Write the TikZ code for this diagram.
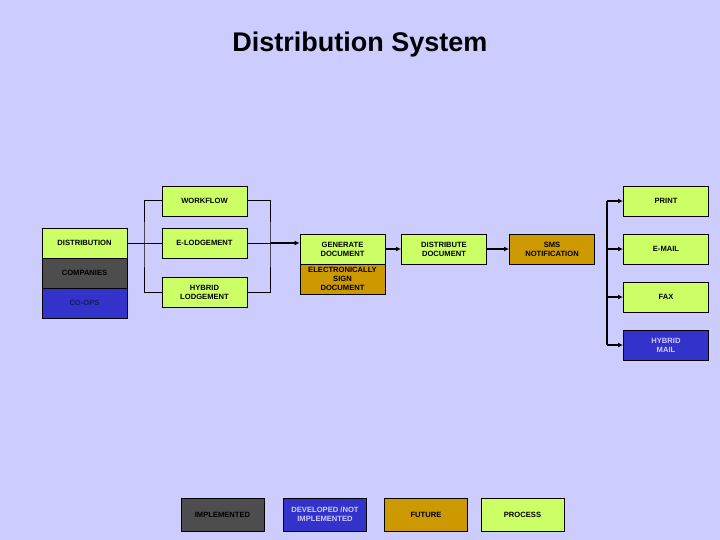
\documentclass[tikz,border=0pt]{standalone}
\usepackage{fontspec}
\setmainfont{Liberation Sans}
\usepackage{xcolor}
\definecolor{colBack}{HTML}{CCCCFF}
\definecolor{colProc}{HTML}{CCFF66}
\definecolor{colImpl}{HTML}{4D4D4D}
\definecolor{colDev}{HTML}{3333CC}
\definecolor{colFut}{HTML}{CC9900}
\definecolor{colNavy}{HTML}{1A1A66}
\usepackage{tikz}
\usetikzlibrary{arrows.meta, positioning, calc}
\tikzset{
	flowbox/.style={draw, line width=0.9pt, minimum width=85pt, minimum height=30pt, inner sep=1pt, align=center, font=\fontsize{7.6}{9}\selectfont\bfseries, fill=#1},
	legbox/.style={flowbox=#1, minimum width=83pt, minimum height=33pt},
	link/.style={line width=1pt},
	flowarr/.style={-{Latex[length=5pt, width=5pt]}, line width=2pt},
}

\begin{document}
\begin{tikzpicture}[x=1pt, y=-1pt]
	\fill[colBack] (0,0) rectangle (720,540);
	\node[font=\fontsize{27}{30}\selectfont\bfseries] (title) at (360,45) {Distribution System};

	% input side
	\node[flowbox=colProc] (distrib) at (84.5,243) {DISTRIBUTION};
	\node[flowbox=colImpl] (companies) at (84.5,273) {COMPANIES};
	\node[flowbox=colDev, text=colNavy] (coops) at (84.5,303) {CO-OPS};
	\node[flowbox=colProc] (workflow) at (204.5,201) {WORKFLOW};
	\node[flowbox=colProc] (elodge) at (204.5,243) {E-LODGEMENT};
	\node[flowbox=colProc] (hyblodge) at (204.5,292) {HYBRID\\LODGEMENT};
	\coordinate (ljoin) at (144,243);
	\coordinate (rjoin) at (270,243);

	% processing
	\node[flowbox=colProc] (generate) at (342.5,249) {GENERATE\\DOCUMENT};
	\node[flowbox=colFut] (esign) at (342.5,279) {ELECTRONICALLY\\SIGN\\DOCUMENT};
	\node[flowbox=colProc] (distdoc) at (444,249) {DISTRIBUTE\\DOCUMENT};
	\node[flowbox=colFut] (sms) at (552,249) {SMS\\NOTIFICATION};

	% outputs
	\node[flowbox=colProc] (print) at (666,201) {PRINT};
	\node[flowbox=colProc] (email) at (666,249) {E-MAIL};
	\node[flowbox=colProc] (fax) at (666,297) {FAX};
	\node[flowbox=colDev, text=colBack] (hybmail) at (666,345) {HYBRID\\MAIL};
	\coordinate (trunk) at (607,201);

	% legend
	\node[legbox=colImpl] (legimpl) at (222.5,514.5) {IMPLEMENTED};
	\node[legbox=colDev, text=colBack] (legdev) at (325,514.5) {DEVELOPED /NOT\\IMPLEMENTED};
	\node[legbox=colFut] (legfut) at (426,514.5) {FUTURE};
	\node[legbox=colProc] (legproc) at (522.5,514.5) {PROCESS};

	\draw[link] (distrib.east) -- (elodge.west);
	\draw[link] (workflow.west) -| (ljoin) |- (hyblodge.west);
	\draw[link] (workflow.east) -| (rjoin) |- (hyblodge.east);
	\draw[link] (elodge.east) -- (rjoin);
	\draw[flowarr] (rjoin) -- (generate.west |- rjoin);
	\draw[flowarr] (generate.east) -- (distdoc.west);
	\draw[flowarr] (distdoc.east) -- (sms.west);
	\draw[link, line width=1.5pt] (trunk) -- (trunk |- hybmail.west);
	\foreach \out in {print, email, fax, hybmail}
		\draw[flowarr] (trunk |- \out.west) -- (\out.west);
\end{tikzpicture}
\end{document}
